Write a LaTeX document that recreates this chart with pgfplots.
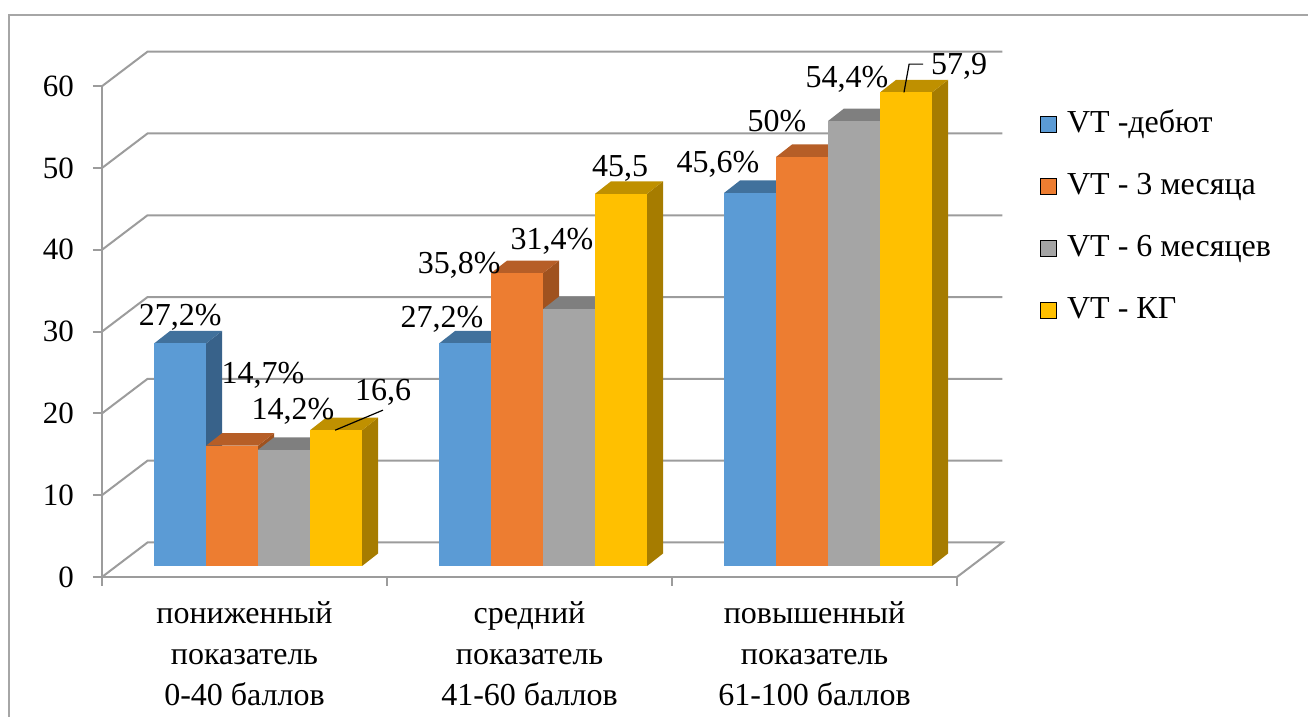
\documentclass[border=0pt]{standalone}
\usepackage{fontspec}
\setmainfont{Liberation Serif}
\usepackage{pgfplots}
\usepackage{pgfplotstable}
\pgfplotsset{compat=1.18}

% front / top / side shades of each series
\definecolor{f0}{HTML}{5B9BD5}\definecolor{t0}{HTML}{41719C}\definecolor{s0}{HTML}{38628A}
\definecolor{f1}{HTML}{ED7D31}\definecolor{t1}{HTML}{B65E27}\definecolor{s1}{HTML}{9F521F}
\definecolor{f2}{HTML}{A5A5A5}\definecolor{t2}{HTML}{7F7F7F}\definecolor{s2}{HTML}{6C6C6C}
\definecolor{f3}{HTML}{FFC000}\definecolor{t3}{HTML}{BF9000}\definecolor{s3}{HTML}{A67C00}
\definecolor{gridc}{HTML}{9C9C9C}
\definecolor{framec}{HTML}{A6A6A6}

\tikzset{
  lbl/.style={anchor=base, font=\fontsize{16}{19}\selectfont, inner sep=0pt},
  gridline/.style={gridc, line width=1pt},
}

% rows: series (дебют, 3 месяца, 6 месяцев, КГ); columns: score groups
\pgfplotstableread{
ser low  mid  high
0   27.2 27.2 45.6
1   14.7 35.8 50.0
2   14.2 31.4 54.4
3   16.6 45.5 57.9
}\datatable

% geometry of the pseudo-3D bars (axis units)
\def\gapx{0.1316}  % gap before the first bar of a group
\def\bw{0.1825}    % bar width
\def\fdx{0.0509}   % bar front face: depth shift in x
\def\fdy{1.345}    % bar front face: depth shift in y
\def\bdx{0.0561}   % bar depth in x
\def\bdy{1.528}    % bar depth in y
\def\DX{0.1596}    % wall depth in x
\def\DY{4.218}     % wall depth in y

% #1 group, #2 series, #3 value
\newcommand\barthree[3]{%
  \pgfmathsetmacro\xa{#1+\gapx+#2*\bw+\fdx}%
  \pgfmathsetmacro\xb{\xa+\bw}%
  \pgfmathsetmacro\xc{\xb+\bdx}%
  \pgfmathsetmacro\xd{\xa+\bdx}%
  \pgfmathsetmacro\ya{\fdy}%
  \pgfmathsetmacro\yb{#3+\fdy}%
  \pgfmathsetmacro\yc{\yb+\bdy}%
  \pgfmathsetmacro\yd{\ya+\bdy}%
  \edef\barcmd{%
    \noexpand\addplot[fill=s#2,draw=none] coordinates {(\xb,\ya) (\xc,\yd) (\xc,\yc) (\xb,\yb)};
    \noexpand\addplot[fill=t#2,draw=none] coordinates {(\xa,\yb) (\xb,\yb) (\xc,\yc) (\xd,\yc)};
    \noexpand\addplot[fill=f#2,draw=none] coordinates {(\xa,\ya) (\xb,\ya) (\xb,\yb) (\xa,\yb)};
  }\barcmd
}

\begin{document}
\begin{tikzpicture}
\useasboundingbox (0,0) rectangle (654pt,358.5pt);
\draw[framec, line width=1pt] (4.5pt,0pt) -- (4.5pt,351pt) -- (654pt,351pt);
\begin{axis}[
  at={(51pt,70pt)}, anchor=origin,
  x=142.5pt, y=4.09pt,
  xmin=0, xmax=3, ymin=0, ymax=60,
  clip=false,
  axis x line*=bottom, axis y line*=left,
  axis line style={gridc, line width=1pt},
  ytick={0,10,...,60},
  tick label style={font=\fontsize{15.5}{18}\selectfont},
  y tick label style={xshift=-6pt},
  xtick={0,1,2,3}, xticklabels={,,,},
  tick align=outside, major tick length=4.5pt,
  tick style={gridc, line width=1pt},
  extra x ticks={0.5,1.5,2.5},
  extra x tick labels={{пониженный\\показатель\\0-40 баллов},{средний\\показатель\\41-60 баллов},{повышенный\\показатель\\61-100 баллов}},
  extra x tick style={major tick length=0pt,
    tick label style={align=center, font=\fontsize{16}{20.3}\selectfont, anchor=north, yshift=-9pt}},
  /pgf/number format/assume math mode=true,
  legend cell align=left,
  legend image code/.code={\fill[#1] (0pt,-4pt) rectangle (8pt,4pt);},
  legend style={at={(1.097,0.952)}, anchor=north west, draw=none, fill=none,
    font=\fontsize{16}{19}\selectfont, row sep=17pt, inner sep=0pt,
    nodes={inner sep=0pt, text height=11pt, text depth=3pt},
    /tikz/every odd column/.style={column sep=5pt}},
]
\addlegendimage{fill=f0}\addlegendentry{VT -дебют}
\addlegendimage{fill=f1}\addlegendentry{VT - 3 месяца}
\addlegendimage{fill=f2}\addlegendentry{VT - 6 месяцев}
\addlegendimage{fill=f3}\addlegendentry{VT - КГ}

% left wall diagonals and back wall grid lines
\pgfplotsinvokeforeach{10,20,30,40,50,60}{%
  \pgfmathsetmacro\yg{#1+\DY}%
  \pgfmathsetmacro\xg{3+\DX}%
  \edef\barcmd{\noexpand\addplot[gridline] coordinates {(0,#1) (\DX,\yg) (\xg,\yg)};}\barcmd
}
% floor
\pgfmathsetmacro\xg{3+\DX}
\edef\barcmd{\noexpand\addplot[gridline] coordinates {(0,0) (\DX,\DY) (\xg,\DY) (3,0)};}\barcmd

% bars, series after series so that later bars cover the side of earlier ones
\pgfplotsinvokeforeach{0,1,2,3}{%
  \pgfplotstablegetelem{#1}{low}\of\datatable
  \barthree{0}{#1}{\pgfplotsretval}%
  \pgfplotstablegetelem{#1}{mid}\of\datatable
  \barthree{1}{#1}{\pgfplotsretval}%
  \pgfplotstablegetelem{#1}{high}\of\datatable
  \barthree{2}{#1}{\pgfplotsretval}%
}

% leader lines of the two moved labels
\addplot[black, line width=0.6pt] coordinates {(0.818,17.945) (0.986,20.4)};
\addplot[black, line width=0.6pt] coordinates {(2.814,59.245) (2.832,62.7) (2.881,62.7)};

% value labels
\node[lbl] at (axis cs:0.274,30.8) {27,2\%};
\node[lbl] at (axis cs:0.565,23.7) {14,7\%};
\node[lbl] at (axis cs:0.670,19.2) {14,2\%};
\node[lbl] at (axis cs:0.986,21.6) {16,6};
\node[lbl] at (axis cs:1.193,30.56) {27,2\%};
\node[lbl] at (axis cs:1.253,37.16) {35,8\%};
\node[lbl] at (axis cs:1.579,39.98) {31,4\%};
\node[lbl] at (axis cs:1.818,48.9) {45,5};
\node[lbl] at (axis cs:2.161,49.4) {45,6\%};
\node[lbl] at (axis cs:2.368,54.5) {50\%};
\node[lbl] at (axis cs:2.614,59.9) {54,4\%};
\node[lbl] at (axis cs:3.007,61.4) {57,9};
\end{axis}
\end{tikzpicture}
\end{document}
